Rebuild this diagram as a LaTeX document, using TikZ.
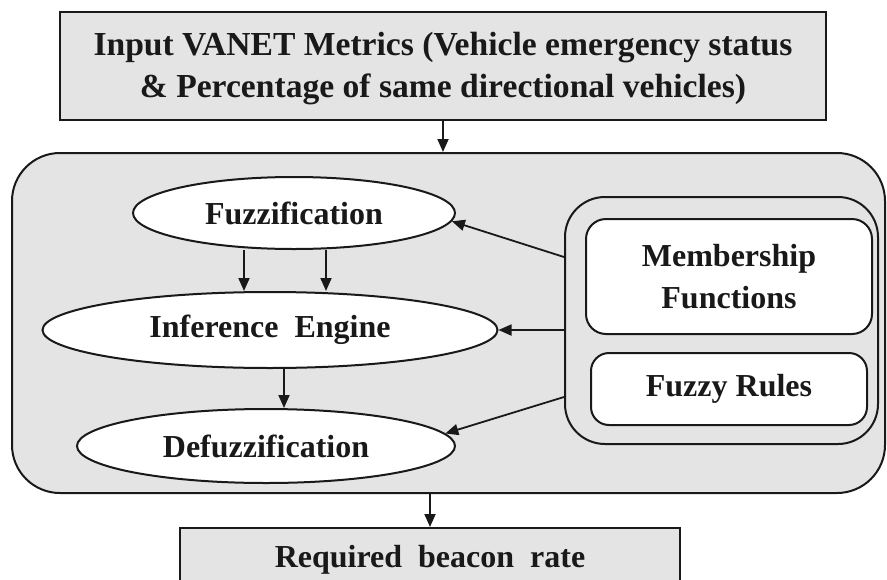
\documentclass[tikz,border=0pt]{standalone}
\usepackage{fontspec}
\setmainfont{Liberation Serif}
\usetikzlibrary{shapes.geometric,arrows.meta}
\definecolor{boxgray}{RGB}{228,228,228}
\definecolor{linecol}{RGB}{25,25,25}
\tikzset{
  every node/.style={font=\fontsize{32}{42}\selectfont\bfseries, text=linecol},
  graybox/.style={draw=linecol, line width=2pt, fill=boxgray, rectangle, inner sep=0pt, align=center},
  oval/.style={draw=linecol, line width=2pt, fill=white, ellipse, inner sep=0pt},
  whitebox/.style={draw=linecol, line width=2pt, fill=white, rectangle, rounded corners=20pt, inner sep=0pt, align=center},
  arr/.style={draw=linecol, line width=1.8pt, -{Triangle[length=13pt,width=11pt]}},
}
\begin{document}
\begin{tikzpicture}[x=1pt,y=-1pt]
\useasboundingbox (0,0) rectangle (887,579);
\clip (0,0) rectangle (887,579);
\fill[white] (0,0) rectangle (887,579);
% top box
\node[graybox, minimum width=766pt, minimum height=108pt] (top) at (443,66) {};
\node[align=center, font=\fontsize{33.6}{42}\selectfont\bfseries] (toptxt) at (443,69)
  {Input VANET Metrics (Vehicle emergency status\\ \& Percentage of same directional vehicles)};
% big rounded box
\node[graybox, rounded corners=48pt, minimum width=873pt, minimum height=340pt] (big) at (448.5,323) {};
% ellipses
\node[oval, minimum width=322pt, minimum height=72pt] (fuzz) at (294,213) {Fuzzification};
\node[oval, minimum width=455pt, minimum height=76pt] (inf) at (270,330) {Inference\ \ Engine};
\node[oval, minimum width=378pt, minimum height=74pt] (defuzz) at (266,446) {Defuzzification};
% knowledge container
\node[graybox, rounded corners=40pt, minimum width=313pt, minimum height=247pt] (ctr) at (721.5,320.5) {};
\node[whitebox, minimum width=286pt, minimum height=115pt] (mf) at (729,276.5) {Membership\\Functions};
\node[whitebox, rounded corners=18pt, minimum width=276pt, minimum height=72pt] (fr) at (729,389) {Fuzzy Rules};
% bottom box
\node[graybox, minimum width=500pt, minimum height=80pt] (bot) at (430,568) {};
\node (bottxt) at (430,560) {Required\ \ beacon\ \ rate};
% connectors
\draw[arr] (top.south) -- (top.south |- big.north);
\draw[arr] ([xshift=-50pt]fuzz.south) -- ([xshift=-26pt]inf.north);
\draw[arr] ([xshift=32pt]fuzz.south) -- ([xshift=56pt]inf.north);
\draw[arr] ([xshift=14pt]inf.south) -- ([xshift=18pt]defuzz.north);
\draw[arr] ([yshift=63.5pt]ctr.west) -- (fuzz.-3);
\draw[arr] (inf.east -| ctr.west) -- (inf.east);
\draw[arr] ([yshift=-76.5pt]ctr.west) -- (defuzz.4);
\draw[arr] (bot.north |- big.south) -- (bot.north);
\end{tikzpicture}
\end{document}
